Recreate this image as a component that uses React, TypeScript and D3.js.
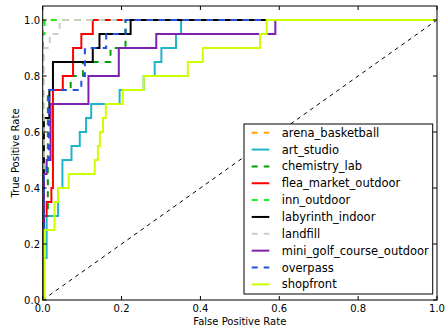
import React from "react";
import * as d3 from "d3";

// ROC curves: each pair of arrays lists the false-positive rate at which the
// true-positive rate jumps, and the new true-positive rate.
const classNames = [
  "arena_basketball",
  "art_studio",
  "chemistry_lab",
  "flea_market_outdoor",
  "inn_outdoor",
  "labyrinth_indoor",
  "landfill",
  "mini_golf_course_outdoor",
  "overpass",
  "shopfront",
];

const arenaFpr = [0, 0, 1];
const arenaTpr = [0, 1, 1];

const artFpr = [0, 0.003, 0.01, 0.039, 0.05, 0.073, 0.094, 0.11, 0.123, 0.195, 0.256, 0.284, 0.301, 0.338, 0.351, 1];
const artTpr = [0, 0.15, 0.3, 0.4, 0.5, 0.55, 0.6, 0.65, 0.7, 0.75, 0.8, 0.85, 0.9, 0.95, 1, 1];

const chemFpr = [0, 0.003, 0.013, 0.071, 0.102, 0.172, 0.21, 1];
const chemTpr = [0, 0.3, 0.75, 0.8, 0.85, 0.9, 1, 1];

const fleaFpr = [0, 0.003, 0.01, 0.022, 0.026, 0.051, 0.077, 0.098, 0.127, 1];
const fleaTpr = [0, 0.3, 0.35, 0.4, 0.75, 0.8, 0.9, 0.95, 1, 1];

const innFpr = [0, 0, 0.005, 1];
const innTpr = [0, 0.95, 1, 1];

const labyFpr = [0, 0.003, 0.017, 0.026, 0.127, 0.144, 0.223, 1];
const labyTpr = [0, 0.65, 0.75, 0.85, 0.9, 0.95, 1, 1];

const landFpr = [0, 0.003, 0.018, 0.043, 1];
const landTpr = [0, 0.9, 0.95, 1, 1];

const miniFpr = [0, 0.003, 0.01, 0.02, 0.116, 0.193, 0.288, 0.59, 1];
const miniTpr = [0, 0.45, 0.5, 0.7, 0.8, 0.9, 0.95, 1, 1];

const overFpr = [0, 0.003, 0.01, 0.016, 0.098, 0.107, 0.161, 0.21, 1];
const overTpr = [0, 0.45, 0.5, 0.75, 0.8, 0.9, 0.95, 1, 1];

const shopFpr = [0, 0.005, 0.03, 0.039, 0.066, 0.132, 0.14, 0.145, 0.153, 0.16, 0.203, 0.256, 0.368, 0.406, 0.551, 0.568, 1];
const shopTpr = [0, 0.25, 0.35, 0.4, 0.45, 0.5, 0.55, 0.6, 0.65, 0.7, 0.75, 0.8, 0.85, 0.9, 0.95, 1, 1];

const seriesFpr = [arenaFpr, artFpr, chemFpr, fleaFpr, innFpr, labyFpr, landFpr, miniFpr, overFpr, shopFpr];
const seriesTpr = [arenaTpr, artTpr, chemTpr, fleaTpr, innTpr, labyTpr, landTpr, miniTpr, overTpr, shopTpr];

const colors = ["#ffa500", "#1fb4cc", "#00a000", "#ff0000", "#22ee22", "#000000", "#cccccc", "#8020b0", "#2050e0", "#ccff00"];
const dashed = [true, false, true, false, true, false, true, false, true, false];

const xTicks = [0, 0.2, 0.4, 0.6, 0.8, 1.0];
const yTicks = [0, 0.2, 0.4, 0.6, 0.8, 1.0];

const W = 446;
const H = 331;
const left = 42.7;
const right = 437;
const top = 6;
const bottom = 300;
const FONT = "DejaVu Sans, sans-serif";

export default function App() {
  const x = d3.scaleLinear().domain([0, 1]).range([left, right]);
  const y = d3.scaleLinear().domain([0, 1.05]).range([bottom, top]);
  const line = d3
    .line<[number, number]>()
    .x((d) => x(d[0]))
    .y((d) => y(d[1]))
    .curve(d3.curveStepAfter);

  const tickLen = 4;
  const legX = 244;
  const legY = 124;
  const legW = 188.7;
  const legH = 170;
  const rowH = 16.85;
  const row0 = 132.7;

  return (
    <svg width={W} height={H} style={{ position: "absolute", left: 0, top: 0, background: "#fff" }}>
      <rect x={0} y={0} width={W} height={H} fill="#fff" />
      <defs>
        <clipPath id="plot">
          <rect x={left} y={top} width={right - left} height={bottom - top} />
        </clipPath>
      </defs>
      <g clipPath="url(#plot)">
        <line
          x1={x(0)}
          y1={y(0)}
          x2={x(1)}
          y2={y(1)}
          stroke="#000"
          strokeWidth={1}
          strokeDasharray="4,4"
        />
        {classNames.map((name, i) => {
          const pts = seriesFpr[i].map((f, j) => [f, seriesTpr[i][j]] as [number, number]);
          return (
            <path
              key={name}
              d={line(pts) || ""}
              fill="none"
              stroke={colors[i]}
              strokeWidth={2}
              strokeDasharray={dashed[i] ? "6,6" : undefined}
            />
          );
        })}
      </g>
      <rect x={left} y={top} width={right - left} height={bottom - top} fill="none" stroke="#000" strokeWidth={1} />
      {xTicks.map((t) => (
        <g key={"x" + t}>
          <line x1={x(t)} x2={x(t)} y1={bottom} y2={bottom - tickLen} stroke="#000" />
          <line x1={x(t)} x2={x(t)} y1={top} y2={top + tickLen} stroke="#000" />
          <text x={x(t)} y={312} fontSize={10} fontFamily={FONT} textAnchor="middle" fill="#000">
            {t.toFixed(1)}
          </text>
        </g>
      ))}
      {yTicks.map((t) => (
        <g key={"y" + t}>
          <line x1={left} x2={left + tickLen} y1={y(t)} y2={y(t)} stroke="#000" />
          <line x1={right} x2={right - tickLen} y1={y(t)} y2={y(t)} stroke="#000" />
          <text x={40} y={y(t)} dy="0.35em" fontSize={10} fontFamily={FONT} textAnchor="end" fill="#000">
            {t.toFixed(1)}
          </text>
        </g>
      ))}
      <text x={(left + right) / 2} y={325} fontSize={10} fontFamily={FONT} textAnchor="middle" fill="#000">
        False Positive Rate
      </text>
      <text
        transform={`translate(15,${(top + bottom) / 2}) rotate(-90)`}
        dy="0.35em"
        fontSize={10}
        fontFamily={FONT}
        textAnchor="middle"
        fill="#000"
      >
        True Positive Rate
      </text>
      <rect x={legX} y={legY} width={legW} height={legH} fill="#fff" stroke="#000" strokeWidth={1} />
      {classNames.map((name, i) => {
        const cy = row0 + i * rowH;
        return (
          <g key={"leg" + name}>
            <line
              x1={251.7}
              x2={269.3}
              y1={cy}
              y2={cy}
              stroke={colors[i]}
              strokeWidth={2}
              strokeDasharray={dashed[i] ? "6,6" : undefined}
            />
            <text x={281.7} y={cy} dy="0.35em" fontSize={11.5} fontFamily={FONT} fill="#000">
              {name}
            </text>
          </g>
        );
      })}
    </svg>
  );
}
